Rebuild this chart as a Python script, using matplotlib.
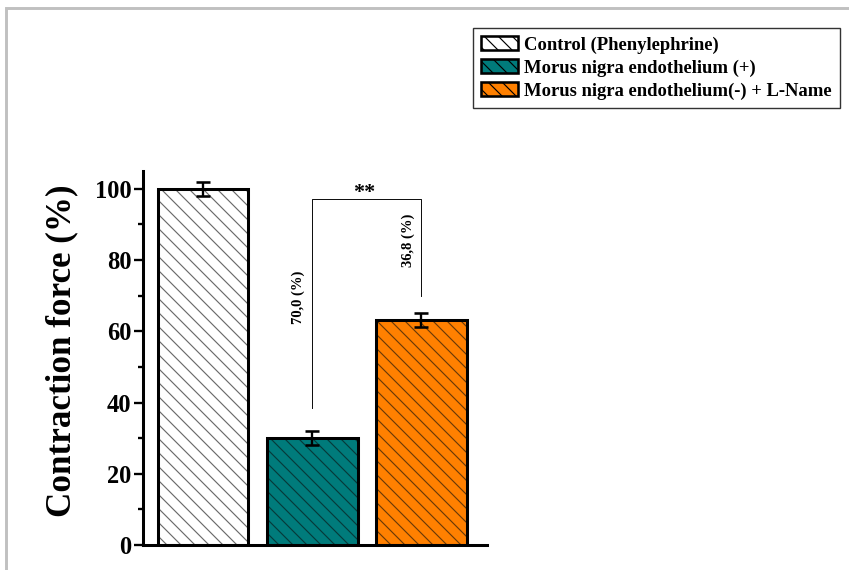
import matplotlib
matplotlib.use("Agg")
import matplotlib.pyplot as plt
from matplotlib.patches import Patch, Rectangle

plt.rcParams['font.family'] = ['Liberation Serif', 'DejaVu Serif']
plt.rcParams['font.weight'] = 'bold'
plt.rcParams['hatch.linewidth'] = 1.0

# Data
groups = ["Control (Phenylephrine)",
          "Morus nigra endothelium (+)",
          "Morus nigra endothelium(-) + L-Name"]
values = [100.0, 30.0, 63.2]
errors = [2.0, 2.0, 2.0]
reductions = ["70,0 (%)", "36,8 (%)"]
face_colors = ["white", "#007b7b", "#ff8000"]
hatch_colors = ["#6a6a6a", "#073a3a", "#6a3a08"]
yticks = [0, 20, 40, 60, 80, 100]
yminor = [10, 30, 50, 70, 90]

DPI = 84
fig = plt.figure(figsize=(849 / DPI, 570 / DPI), dpi=DPI)
ax = fig.add_axes([143 / 849, 1 - 545 / 570, 344 / 849, (545 - 171) / 570])

x = list(range(len(values)))
width = 0.83
# hatched fill, then a bold outline on top
ax.bar(x, values, width=width, color=face_colors, edgecolor=hatch_colors,
       linewidth=0, hatch="\\\\", zorder=2)
ax.bar(x, values, width=width, fill=False, edgecolor="black", linewidth=2.6, zorder=3)
ax.errorbar(x, values, yerr=errors, fmt="none", ecolor="black", elinewidth=2,
            capsize=6.4, capthick=2.2, zorder=4)

ax.set_xlim(-0.55, 2.6)
ax.set_ylim(0, 105)
ax.set_xticks([])
ax.set_yticks(yticks)
ax.set_yticks(yminor, minor=True)
ax.tick_params(axis="y", which="major", direction="out", length=8, width=2,
               labelsize=21, pad=2)
ax.tick_params(axis="y", which="minor", direction="out", length=4, width=2)
for lab in ax.get_yticklabels():
    lab.set_fontweight("bold")
for side in ("top", "right"):
    ax.spines[side].set_visible(False)
for side in ("left", "bottom"):
    ax.spines[side].set_linewidth(2.6)
ax.set_ylabel("Contraction force (%)", fontsize=30, fontweight="bold")
ax.yaxis.set_label_coords(-0.188, 0.519)

# significance bracket between the treated groups
yl, yt, yr = 38.5, 97.2, 70.0
ax.plot([x[1], x[1], x[2], x[2]], [yl, yt, yt, yr], color="black", lw=0.8, zorder=5)
ax.text((x[1] + x[2]) / 2 - 0.02, yt - 1.2, "**", ha="center", va="bottom",
        fontsize=19, fontweight="bold")
ax.text(x[1] - 0.13, 69.5, reductions[0], rotation=90, ha="center", va="center",
        fontsize=12.5, fontweight="bold")
ax.text(x[2] - 0.12, 85.5, reductions[1], rotation=90, ha="center", va="center",
        fontsize=12.5, fontweight="bold")

handles = [Patch(facecolor=fc, edgecolor="black", hatch="\\\\", linewidth=2.2)
           for fc in face_colors]
leg = fig.legend(handles, groups, loc="upper right",
                 bbox_to_anchor=(840 / 849, 1 - 28 / 570),
                 frameon=True, fancybox=False, edgecolor="black",
                 prop={"family": "Liberation Serif", "weight": "bold", "size": 16},
                 handlelength=2.0, handleheight=0.75, handletextpad=0.3,
                 labelspacing=0.3, borderpad=0.45, borderaxespad=0)
leg.get_frame().set_linewidth(1.2)

# light page frame
fig.add_artist(Rectangle((6 / 849, -0.1), 1.2, 1 - 8 / 570 + 0.1,
                         transform=fig.transFigure, fill=False,
                         edgecolor="#c0c0c0", linewidth=2.5))

fig.savefig("out.png", dpi=DPI, facecolor="white")
